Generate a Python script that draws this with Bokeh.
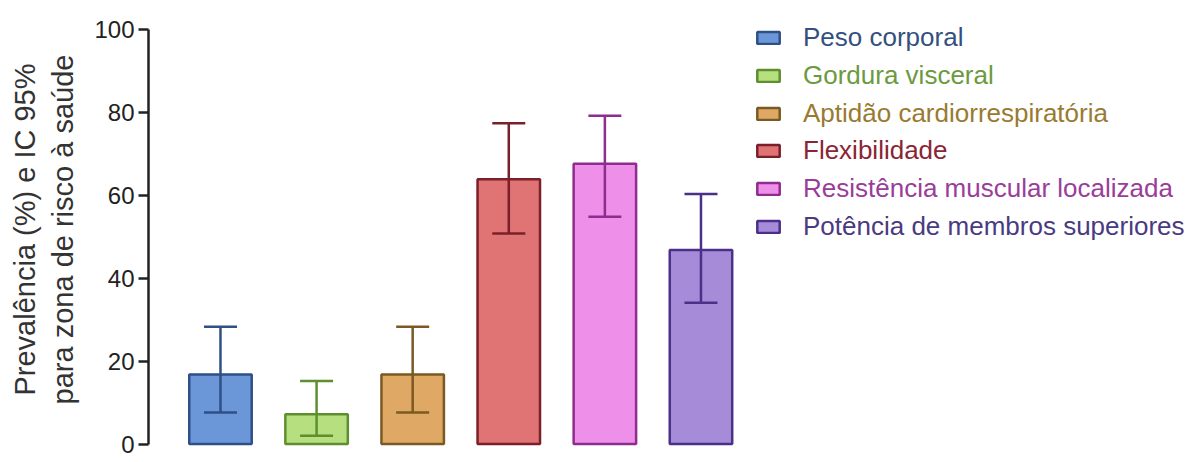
from bokeh.plotting import figure
from bokeh.models import ColumnDataSource, Whisker, TeeHead, Legend, LegendItem, Range1d
from bokeh.core.properties import field, value
from bokeh.embed import file_html
from bokeh.resources import INLINE

# ---- data ----
categories = [
    "Peso corporal",
    "Gordura visceral",
    "Aptidão cardiorrespiratória",
    "Flexibilidade",
    "Resistência muscular localizada",
    "Potência de membros superiores",
]
prevalence = [16.8, 7.2, 16.8, 63.9, 67.6, 46.8]
ci_lower = [7.6, 2.0, 7.6, 50.8, 54.8, 34.1]
ci_upper = [28.3, 15.2, 28.3, 77.4, 79.2, 60.3]
y_ticks = [0, 20, 40, 60, 80, 100]

# ---- styles ----
fill_colors = ["#6b97d8", "#b6df7f", "#dfa865", "#e07373", "#ee90ea", "#a68bd8"]
line_colors = ["#2f4f86", "#5e8e2e", "#7a5a22", "#7b1f2a", "#8e2d8e", "#4a3088"]
text_colors = ["#34507e", "#6b9a40", "#9a7a30", "#8a2535", "#9a3c9a", "#4a3a80"]
FONT = "Liberation Sans"

positions = list(range(1, len(categories) + 1))
src = ColumnDataSource(dict(x=positions, top=prevalence, lower=ci_lower, upper=ci_upper,
                            fill=fill_colors, line=line_colors, cat=categories))

W, H = 1190, 460
BT, BB, BL = 12, 14, 148
PX_PER_UNIT = 4.145
frame_w = W - BL
frame_h = H - BT - BB
y_start = -0.6
p = figure(width=W, height=H, x_range=Range1d(0.251, 0.251 + frame_w / 96.1),
           y_range=Range1d(y_start, y_start + frame_h / PX_PER_UNIT),
           output_backend="svg", toolbar_location=None, x_axis_location=None,
           min_border_left=BL, min_border_right=0, min_border_top=BT, min_border_bottom=BB)
p.outline_line_color = None
p.grid.visible = False
p.background_fill_color = "white"

ax = p.yaxis[0]
ax.ticker = y_ticks
ax.bounds = (0, 100)
ax.axis_line_width = 2.5
ax.axis_line_color = "#222222"
ax.major_tick_line_width = 2.5
ax.major_tick_line_color = "#222222"
ax.major_tick_out = 10
ax.major_tick_in = 0
ax.minor_tick_line_color = None
ax.major_label_standoff = 4
ax.major_label_text_font = FONT
ax.major_label_text_font_size = "24px"
ax.major_label_text_color = "#222222"
ax.axis_label = "Prevalência (%) e IC 95%\npara zona de risco à saúde"
ax.axis_label_text_font = FONT
ax.axis_label_text_font_size = "29px"
ax.axis_label_text_line_height = 1.2
ax.axis_label_text_font_style = "normal"
ax.axis_label_text_color = "#333333"
ax.axis_label_standoff = 12

bars = p.vbar(x="x", top="top", bottom=0, width=0.65, source=src,
              fill_color="fill", line_color="line", line_width=2.5)

whisk = Whisker(base="x", upper="upper", lower="lower", source=src,
                line_color=field("line"), line_width=2.5, level="annotation",
                upper_head=TeeHead(size=33, line_color=field("line"), line_width=2.5),
                lower_head=TeeHead(size=33, line_color=field("line"), line_width=2.5))
p.add_layout(whisk)

# legend entries, one per category so each label keeps its own colour
item_h = 30
first_center = 38 - BT   # px below frame top
step = 37.8
for i, cat in enumerate(categories):
    yc = first_center + i * step
    vy = frame_h - yc - item_h / 2
    leg = Legend(items=[LegendItem(label=value(cat), renderers=[bars], index=i)],
                 location=(606, vy), padding=0, margin=0, spacing=0,
                 border_line_color=None, background_fill_alpha=0,
                 glyph_width=28, glyph_height=15, label_standoff=21,
                 label_height=item_h, label_text_font=FONT, label_text_font_size="26px",
                 label_text_color=text_colors[i])
    p.add_layout(leg)

open("out.html", "w").write(file_html(p, INLINE))
